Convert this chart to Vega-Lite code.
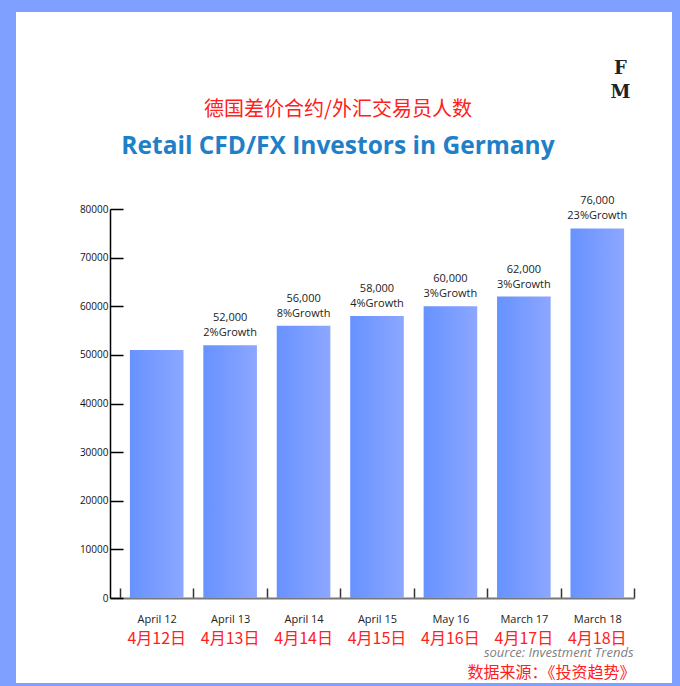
{
  "$schema": "https://vega.github.io/schema/vega-lite/v6.json",
  "autosize": {"type": "none"},
  "width": 656,
  "height": 671,
  "padding": {"left": 16, "top": 12, "right": 8, "bottom": 3},
  "background": "#80a0ff",
  "config": {"view": {"fill": "white", "stroke": null}, "font": "Open Sans"},
  "title": {
    "text": "德国差价合约/外汇交易员人数",
    "subtitle": "Retail CFD/FX Investors in Germany",
    "anchor": "middle",
    "frame": "group",
    "orient": "top",
    "offset": -146,
    "dx": -6,
    "color": "#ff2020",
    "font": "Noto Sans CJK SC",
    "fontSize": 20,
    "fontWeight": "normal",
    "subtitleColor": "#1f80c8",
    "subtitleFont": "Open Sans",
    "subtitleFontSize": 24.5,
    "subtitleFontWeight": "bold",
    "subtitlePadding": 15
  },
  "data": {
    "values": [
      {"period": "April 12", "cn": "4月12日", "value": 51000, "label": ""},
      {"period": "April 13", "cn": "4月13日", "value": 52000, "label": "52,000\n2%Growth"},
      {"period": "April 14", "cn": "4月14日", "value": 56000, "label": "56,000\n8%Growth"},
      {"period": "April 15", "cn": "4月15日", "value": 58000, "label": "58,000\n4%Growth"},
      {"period": "May 16", "cn": "4月16日", "value": 60000, "label": "60,000\n3%Growth"},
      {"period": "March 17", "cn": "4月17日", "value": 62000, "label": "62,000\n3%Growth"},
      {"period": "March 18", "cn": "4月18日", "value": 76000, "label": "76,000\n23%Growth"}
    ]
  },
  "layer": [
    {
      "mark": {
        "type": "bar",
        "width": {"band": 0.73},
        "color": {
          "gradient": "linear",
          "x1": 0, "y1": 0, "x2": 1, "y2": 0,
          "stops": [
            {"offset": 0, "color": "#6792ff"},
            {"offset": 1, "color": "#8ca7ff"}
          ]
        }
      },
      "encoding": {
        "x": {
          "field": "period",
          "type": "ordinal",
          "sort": null,
          "scale": {"type": "band", "range": [94, 618], "paddingInner": 0, "paddingOuter": 0.068, "align": 1},
          "axis": {
            "orient": "bottom",
            "offset": -85,
            "labelAngle": 0,
            "domainColor": "#777777",
            "domainWidth": 2,
            "tickColor": "#333333",
            "tickWidth": 1.5,
            "tickSize": -10,
            "tickBand": "extent",
            "labelPadding": 25,
            "labelFontSize": 11,
            "labelColor": "#222222",
            "title": "source: Investment Trends",
            "titleFontStyle": "italic",
            "titleFontWeight": "normal",
            "titleColor": "#808080",
            "titleFontSize": 13,
            "titleAnchor": "end",
            "titleAlign": "right",
            "titleBaseline": "middle",
            "titleX": 617,
            "titleY": 54
          }
        },
        "y": {
          "field": "value",
          "type": "quantitative",
          "scale": {"domain": [0, 80000], "range": [586, 197], "nice": false, "zero": true},
          "axis": {
            "orient": "left",
            "offset": -94,
            "values": [0, 10000, 20000, 30000, 40000, 50000, 60000, 70000, 80000],
            "format": "d",
            "grid": false,
            "domainColor": "#000000",
            "domainWidth": 1.5,
            "tickColor": "#000000",
            "tickWidth": 1.5,
            "tickSize": -13,
            "labelPadding": 15,
            "labelFontSize": 10,
            "labelColor": "#111111",
            "title": ["F", "M"],
            "titleAngle": 0,
            "titleFont": "DejaVu Serif",
            "titleFontWeight": "bold",
            "titleFontSize": 18,
            "titleLineHeight": 24,
            "titleColor": "#222222",
            "titleAlign": "center",
            "titleBaseline": "middle",
            "titleX": 510,
            "titleY": 56
          }
        }
      }
    },
    {
      "mark": {
        "type": "text",
        "baseline": "bottom",
        "align": "center",
        "dy": -22,
        "fontSize": 11,
        "lineHeight": 15,
        "color": "#222222",
        "lineBreak": "\n"
      },
      "encoding": {
        "x": {
          "field": "cn",
          "type": "ordinal",
          "sort": null,
          "scale": {"type": "band", "range": [94, 618], "paddingInner": 0, "paddingOuter": 0.068, "align": 1},
          "axis": {
            "orient": "bottom",
            "offset": -85,
            "labelAngle": 0,
            "domain": false,
            "ticks": false,
            "labelPadding": 32,
            "labelBaseline": "top",
            "labelFont": "Noto Sans CJK SC",
            "labelFontSize": 16,
            "labelColor": "#ff2020",
            "labelDx": -5,
            "title": "数据来源：《投资趋势》",
            "titleFont": "Noto Sans CJK SC",
            "titleFontWeight": "normal",
            "titleColor": "#ff2020",
            "titleFontSize": 16,
            "titleAnchor": "end",
            "titleAlign": "right",
            "titleBaseline": "middle",
            "titleX": 619,
            "titleY": 74
          }
        },
        "y": {"field": "value", "type": "quantitative"},
        "text": {"field": "label"}
      }
    }
  ],
  "resolve": {"scale": {"x": "independent"}, "axis": {"x": "independent"}}
}
